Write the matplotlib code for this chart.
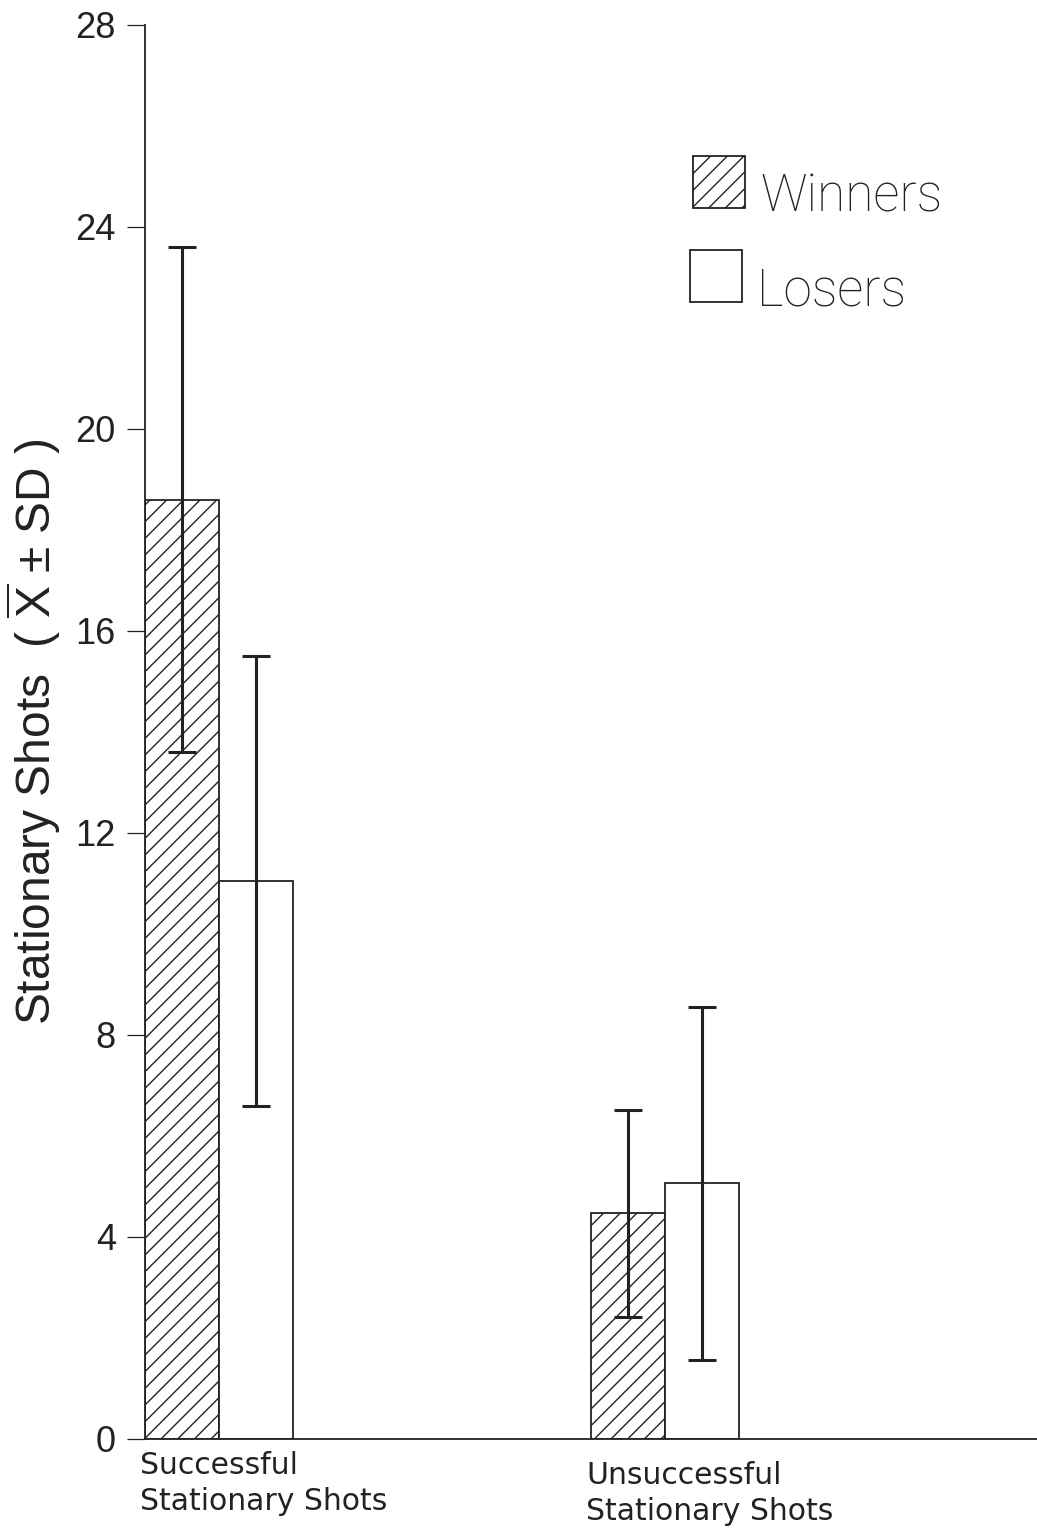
import numpy as np
import matplotlib
matplotlib.use("Agg")
import matplotlib.pyplot as plt
from matplotlib.patches import Rectangle

plt.rcParams['font.family'] = ['Liberation Sans', 'DejaVu Sans']
plt.rcParams['mathtext.fontset'] = 'custom'
plt.rcParams['mathtext.rm'] = 'Liberation Sans'
plt.rcParams['hatch.linewidth'] = 1.0

# Datos
categorias = ["Successful\nStationary Shots", "Unsuccessful\nStationary Shots"]
grupos = ["Winners", "Losers"]
winners_media = [18.6, 4.47]
winners_sd = [5.0, 2.05]
losers_media = [11.05, 5.06]
losers_sd = [4.45, 3.49]
yticks = [0, 4, 8, 12, 16, 20, 24, 28]

ink = "#222222"
W, H = 1037, 1530

fig = plt.figure(figsize=(W / 100, H / 100), dpi=100)
ax = fig.add_axes([145 / W, 1 - 1439 / H, 892 / W, 1414 / H])

ancho = 1.0
centros = np.array([1.0, 7.03])

ax.bar(centros - ancho / 2, winners_media, width=ancho, facecolor="white",
       edgecolor=ink, linewidth=1.3, hatch="//")
ax.bar(centros + ancho / 2, losers_media, width=ancho, facecolor="white",
       edgecolor=ink, linewidth=1.3)

ax.errorbar(centros - ancho / 2, winners_media, yerr=winners_sd, fmt="none",
            ecolor=ink, elinewidth=2.2, capsize=10, capthick=2.2)
ax.errorbar(centros + ancho / 2, losers_media, yerr=losers_sd, fmt="none",
            ecolor=ink, elinewidth=2.2, capsize=10, capthick=2.2)

ax.set_xticks([])
ax.set_xlim(0, 892 / 74)
ax.set_ylim(0, 28)
ax.set_yticks(yticks)
ax.set_yticklabels([str(v) for v in yticks], fontsize=26, color=ink)
ax.tick_params(axis="y", direction="out", length=13, width=0.9, pad=8, colors=ink)

# etiquetas de categoría, alineadas al borde izquierdo de cada grupo
trans = ax.get_xaxis_transform()
for x, lab, dy in zip(centros - ancho, categorias, [-0.0085, -0.0155]):
    ax.text(x - 0.07, dy, lab, transform=trans, ha="left", va="top",
            fontsize=21.5, color=ink, family=["DejaVu Sans"], linespacing=1.3)

for s in ["top", "right"]:
    ax.spines[s].set_visible(False)
for s in ["left", "bottom"]:
    ax.spines[s].set_linewidth(1.3)
    ax.spines[s].set_color(ink)

ax.set_ylabel(r"Stationary Shots  ( $\overline{\mathrm{X}}$ ± SD )", fontsize=34.5,
              color=ink, labelpad=9)

# leyenda dibujada a mano (cajas + texto)
def px(x, y):
    return x / W, 1 - y / H

cajas = [(693, 208, "//"), (690, 302, None)]
textos = [(760, 212), (757, 305)]
for (bx, by, hatch), (tx, ty), nombre in zip(cajas, textos, grupos):
    fig.add_artist(Rectangle(px(bx, by), 52 / W, 52 / H, transform=fig.transFigure,
                             facecolor="white", edgecolor=ink, linewidth=1.3, hatch=hatch))
    fig.text(*px(tx, ty), nombre, ha="left", va="baseline", fontsize=37,
             family=["Roboto", "Liberation Sans"], weight="light", color=ink)

fig.savefig("out.png", dpi=100)
